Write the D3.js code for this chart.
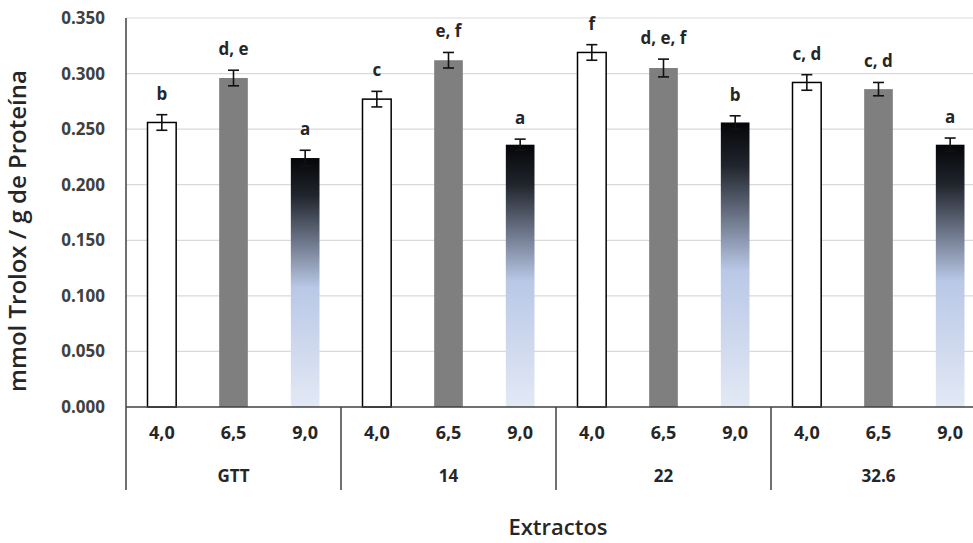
<!DOCTYPE html>
<html><head><meta charset="utf-8">
<script src="https://cdn.jsdelivr.net/npm/d3@7"></script>
<style>body{margin:0;background:#fff;} svg{display:block;}</style>
</head><body>
<svg id="c" width="973" height="543"></svg>
<script>
const groups = ["GTT", "14", "22", "32.6"];
const phs = ["4,0", "6,5", "9,0"];
const values = [
  [0.256, 0.296, 0.224],
  [0.277, 0.312, 0.236],
  [0.319, 0.305, 0.256],
  [0.292, 0.286, 0.236]
];
const errors = [
  [0.007, 0.007, 0.007],
  [0.007, 0.007, 0.005],
  [0.007, 0.008, 0.006],
  [0.007, 0.006, 0.006]
];
const letters = [
  ["b", "d, e", "a"],
  ["c", "e, f", "a"],
  ["f", "d, e, f", "b"],
  ["c, d", "c, d", "a"]
];
const yTicks = [0, 0.05, 0.1, 0.15, 0.2, 0.25, 0.3, 0.35];

(function(){
const svg = d3.select("#c");
const mL = 126, mR = 986, mT = 18, mB = 407;
const font = "'Open Sans', Lato, sans-serif";

const defs = svg.append("defs");
const grad = defs.append("linearGradient").attr("id","g9").attr("x1",0).attr("y1",0).attr("x2",0).attr("y2",1);
grad.append("stop").attr("offset","0%").attr("stop-color","#050608");
grad.append("stop").attr("offset","15%").attr("stop-color","#20242c");
grad.append("stop").attr("offset","52%").attr("stop-color","#b9c8e6");
grad.append("stop").attr("offset","100%").attr("stop-color","#e3e9f5");

const y = d3.scaleLinear().domain([0, 0.35]).range([mB, mT]);
const xg = d3.scaleBand().domain(groups).range([mL, mR]).padding(0);
const xs = d3.scaleBand().domain(phs).range([0, xg.bandwidth()]).paddingInner(0.6).paddingOuter(0.3);

svg.append("g").selectAll("line").data(yTicks.slice(1)).join("line")
  .attr("x1", mL).attr("x2", 973).attr("y1", d=>y(d)).attr("y2", d=>y(d))
  .attr("stroke", "#d9d9d9").attr("stroke-width", 1.2);

svg.append("g").selectAll("text").data(yTicks).join("text")
  .attr("x", 105).attr("y", d=>y(d)).attr("dy","0.35em").attr("text-anchor","end")
  .attr("font-family", font).attr("font-size", 17).attr("font-weight", "bold").attr("fill", "#404040")
  .text(d=>d3.format(".3f")(d));

const data = [];
groups.forEach((g,i)=>phs.forEach((p,j)=>data.push({g, p, j, v: values[i][j], e: errors[i][j], l: letters[i][j]})));
const bx = d => xg(d.g) + xs(d.p);
const bw = xs.bandwidth();

svg.append("g").selectAll("rect").data(data).join("rect")
  .attr("x", d=>bx(d)).attr("width", bw)
  .attr("y", d=>y(d.v)).attr("height", d=>y(0)-y(d.v))
  .attr("fill", d=> d.j===0 ? "#ffffff" : d.j===1 ? "#7f7f7f" : "url(#g9)")
  .attr("stroke", d=> d.j===0 ? "#000" : "none").attr("stroke-width", 1.5);

const eb = svg.append("g").attr("stroke", "#111").attr("stroke-width", 1.6);
data.forEach(d=>{
  const cx = bx(d) + bw/2;
  eb.append("line").attr("x1",cx).attr("x2",cx).attr("y1",y(d.v+d.e)).attr("y2",y(d.v-d.e));
  eb.append("line").attr("x1",cx-5.5).attr("x2",cx+5.5).attr("y1",y(d.v+d.e)).attr("y2",y(d.v+d.e));
  eb.append("line").attr("x1",cx-5.5).attr("x2",cx+5.5).attr("y1",y(d.v-d.e)).attr("y2",y(d.v-d.e));
});

svg.append("g").selectAll("text").data(data).join("text")
  .attr("x", d=>bx(d)+bw/2).attr("y", d=>y(d.v+d.e)-15)
  .attr("text-anchor","middle").attr("font-family", font).attr("font-size", 17).attr("font-weight","bold").attr("fill","#262626")
  .text(d=>d.l);

svg.append("line").attr("x1", mL).attr("x2", 973).attr("y1", mB).attr("y2", mB).attr("stroke","#404040").attr("stroke-width",1.5);
svg.append("line").attr("x1", mL).attr("x2", mL).attr("y1", mT).attr("y2", 490).attr("stroke","#404040").attr("stroke-width",1.5);
svg.append("g").selectAll("line").data(groups.slice(1)).join("line")
  .attr("x1", d=>xg(d)).attr("x2", d=>xg(d)).attr("y1", mB).attr("y2", 490)
  .attr("stroke","#404040").attr("stroke-width",1.5);

svg.append("g").selectAll("text").data(data).join("text")
  .attr("x", d=>bx(d)+bw/2).attr("y", 439).attr("text-anchor","middle")
  .attr("font-family", font).attr("font-size", 18).attr("font-weight","bold").attr("fill","#262626")
  .text(d=>d.p);
svg.append("g").selectAll("text").data(groups).join("text")
  .attr("x", d=>xg(d)+xg.bandwidth()/2).attr("y", 482).attr("text-anchor","middle")
  .attr("font-family", font).attr("font-size", 17).attr("font-weight","bold").attr("fill","#262626")
  .text(d=>d);

svg.append("text").attr("transform","translate(26,231) rotate(-90)").attr("text-anchor","middle")
  .attr("font-family", font).attr("font-size", 24).attr("font-weight", 600).attr("fill","#262626")
  .text("mmol Trolox /  g de Proteína");
svg.append("text").attr("x", 558).attr("y", 535).attr("text-anchor","middle")
  .attr("font-family", font).attr("font-size", 22).attr("font-weight", 600).attr("fill","#262626")
  .text("Extractos");
})();
</script>
</body></html>
